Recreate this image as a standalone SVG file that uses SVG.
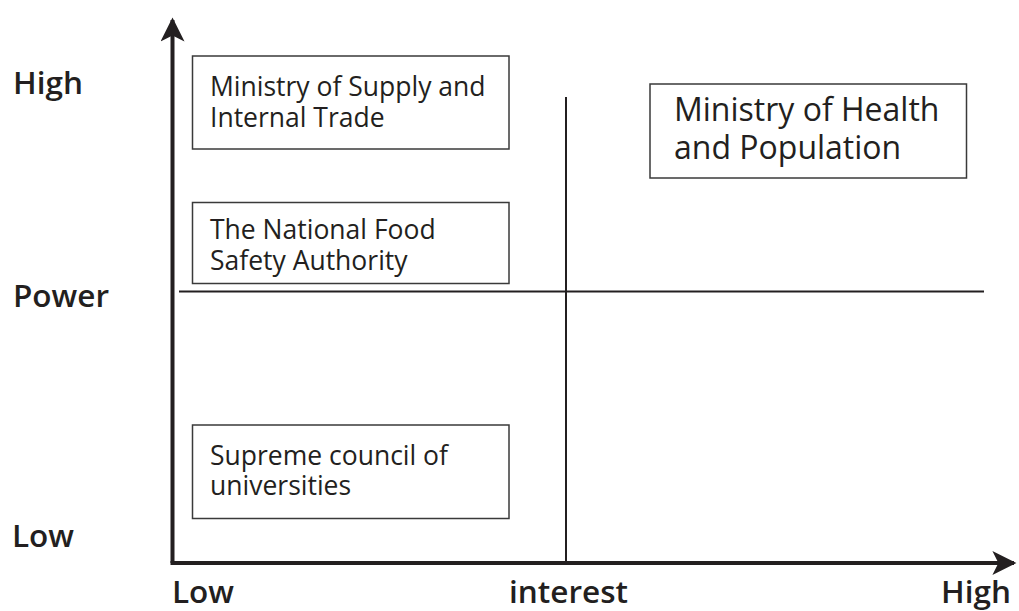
<svg xmlns="http://www.w3.org/2000/svg" width="1019" height="611" viewBox="0 0 1019 611">
<style>
.box{fill:#fff;stroke:#3a3a3a;stroke-width:1.5}
.t{font-family:"Open Sans","Noto Sans",sans-serif;font-size:26.5px;fill:#231f20}
.tl{font-family:"Open Sans","Noto Sans",sans-serif;font-size:32px;fill:#231f20}
.tb{font-family:"Open Sans","Noto Sans",sans-serif;font-size:31.5px;font-weight:600;fill:#231f20}
.axis{stroke:#231f20;stroke-width:4;fill:none}
.mid{stroke:#231f20;stroke-width:2;fill:none}
</style>
<defs>
<marker id="ah" viewBox="0 0 10 10" refX="9" refY="5" markerWidth="6.5" markerHeight="6" markerUnits="strokeWidth" orient="auto">
<path d="M0,0 L10,5 L0,10 L2.5,5 Z" fill="#231f20"/>
</marker>
</defs>
<rect width="1019" height="611" fill="#fff"/>
<g id="connectors">
<line class="mid" x1="179" y1="291.5" x2="984" y2="291.5"/>
<line class="mid" x1="566" y1="97" x2="566" y2="563"/>
<path class="axis" d="M172.5,563 L172.5,20" marker-end="url(#ah)"/>
<path class="axis" d="M170.5,563 L1014,563" marker-end="url(#ah)"/>
</g>
<g id="axis-labels">
<text class="tb" x="13" y="94">High</text>
<text class="tb" x="13" y="307">Power</text>
<text class="tb" x="12" y="547">Low</text>
<text class="tb" x="172" y="603">Low</text>
<text class="tb" x="509" y="603">interest</text>
<text class="tb" x="941" y="603">High</text>
</g>
<g id="node-supply">
<rect class="box" x="192.5" y="56" width="316.5" height="93"/>
<text class="t" x="210" y="96">Ministry of Supply and</text>
<text class="t" x="210" y="127">Internal Trade</text>
</g>
<g id="node-nfsa">
<rect class="box" x="192.5" y="202.5" width="316.5" height="81"/>
<text class="t" x="210" y="239">The National Food</text>
<text class="t" x="210" y="270">Safety Authority</text>
</g>
<g id="node-health">
<rect class="box" x="650" y="84" width="316.5" height="94"/>
<text class="tl" x="674" y="121">Ministry of Health</text>
<text class="tl" x="674" y="159">and Population</text>
</g>
<g id="node-scu">
<rect class="box" x="192.5" y="425" width="316.5" height="93.5"/>
<text class="t" x="210" y="465">Supreme council of</text>
<text class="t" x="210" y="495">universities</text>
</g>
</svg>
